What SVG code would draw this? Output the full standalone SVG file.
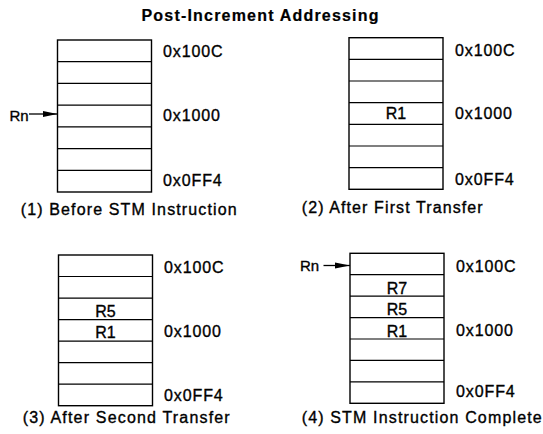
<svg xmlns="http://www.w3.org/2000/svg" width="543" height="434" viewBox="0 0 543 434">
<style>
text{font-family:"Liberation Sans",Arial,sans-serif;fill:#000;stroke:#000;stroke-width:0.35}
.t{font-size:16px;font-weight:bold;stroke-width:0.2}
.l{font-size:16px;letter-spacing:0.9px}
.c{font-size:16px}
.n{font-size:15px}
.r{font-size:16px;text-anchor:middle}
.box{fill:#fff;stroke:#000;stroke-width:1.4}
.row{stroke:#000;stroke-width:1.2}
.arr{stroke:#000;stroke-width:1.3;fill:none}
</style>
<defs>
<marker id="ah" markerWidth="16" markerHeight="8" refX="15" refY="4" orient="auto" markerUnits="userSpaceOnUse">
<path d="M0,1 L15,4 L0,7 Z" fill="#000"/>
</marker>
</defs>
<rect width="543" height="434" fill="#fff"/>
<text class="t" x="141.5" y="20.5" textLength="237" lengthAdjust="spacing">Post-Increment Addressing</text>

<g id="panel1">
<rect class="box" x="57.5" y="40" width="94" height="152"/>
<path class="row" d="M57.5,61.7H151.5M57.5,83.4H151.5M57.5,105.1H151.5M57.5,126.9H151.5M57.5,148.6H151.5M57.5,170.3H151.5"/>
<text class="l" x="163" y="56.7">0x100C</text>
<text class="l" x="163" y="120.5">0x1000</text>
<text class="l" x="163" y="185.6">0x0FF4</text>
<text class="n" x="9.5" y="120.7">Rn</text>
<text class="c" x="20.7" y="215" textLength="216" lengthAdjust="spacing">(1)  Before STM Instruction</text>
</g>

<g id="panel2">
<rect class="box" x="349" y="37.7" width="94" height="151.6"/>
<path class="row" d="M349,59.4H443M349,81H443M349,102.7H443M349,124.3H443M349,146H443M349,167.6H443"/>
<text class="r" x="396" y="119">R1</text>
<text class="l" x="455" y="56">0x100C</text>
<text class="l" x="455" y="119">0x1000</text>
<text class="l" x="455" y="185">0x0FF4</text>
<text class="c" x="301.7" y="213.3" textLength="181" lengthAdjust="spacing">(2)  After First Transfer</text>
</g>

<g id="panel3">
<rect class="box" x="58.5" y="255" width="94" height="150.7"/>
<path class="row" d="M58.5,276.5H152.5M58.5,298.1H152.5M58.5,319.6H152.5M58.5,341.1H152.5M58.5,362.6H152.5M58.5,384.2H152.5"/>
<text class="r" x="105.5" y="317">R5</text>
<text class="r" x="105.5" y="338">R1</text>
<text class="l" x="164" y="273.3">0x100C</text>
<text class="l" x="164" y="337">0x1000</text>
<text class="l" x="164" y="400.7">0x0FF4</text>
<text class="c" x="22.7" y="423.3" textLength="207" lengthAdjust="spacing">(3)  After Second Transfer</text>
</g>

<g id="panel4">
<rect class="box" x="350" y="253.3" width="94" height="150"/>
<path class="row" d="M350,274.7H444M350,296.2H444M350,317.6H444M350,339H444M350,360.4H444M350,381.9H444"/>
<text class="r" x="397" y="294">R7</text>
<text class="r" x="397" y="315">R5</text>
<text class="r" x="397" y="336.5">R1</text>
<text class="l" x="456" y="271.7">0x100C</text>
<text class="l" x="456" y="336">0x1000</text>
<text class="l" x="456" y="397.3">0x0FF4</text>
<text class="n" x="300" y="271">Rn</text>
<text class="c" x="301.7" y="422.7" textLength="240" lengthAdjust="spacing">(4)  STM Instruction Complete</text>
</g>

<g id="connectors">
<line class="arr" x1="29" y1="114" x2="57.5" y2="114" marker-end="url(#ah)"/>
<line class="arr" x1="323.5" y1="265.5" x2="350" y2="265.5" marker-end="url(#ah)"/>
</g>
</svg>
